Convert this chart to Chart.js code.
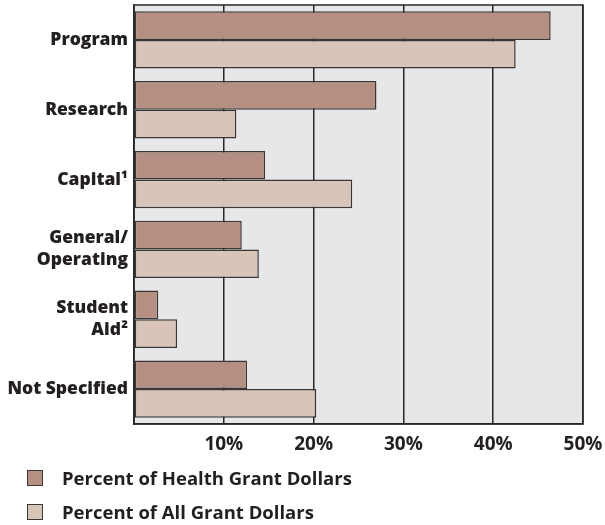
<!DOCTYPE html>
<html>
<head>
<meta charset="utf-8">
<script src="https://cdn.jsdelivr.net/npm/chart.js@4/dist/chart.umd.min.js"></script>
<style>
  html, body { margin: 0; padding: 0; background: #ffffff; }
  #wrap { position: relative; width: 605px; height: 525px; }
  #c { position: absolute; left: 0; top: 0; }
  .leg { position: absolute; left: 27px; font-family: "Open Sans", sans-serif; font-weight: 700; font-size: 18.5px; color: #231f20; display: flex; align-items: center; white-space: nowrap; }
  .leg .sw { width: 14px; height: 14px; border: 1.5px solid #3b3535; margin-right: 19px; }
</style>
</head>
<body>
<div id="wrap">
  <canvas id="c" width="605" height="525"></canvas>
  <div id="legend"></div>
</div>
<script>
const categories = ["Program", "Research", "Capital\u00b9", ["General/", "Operating"], ["Student", "Aid\u00b2"], "Not Specified"];
const seriesNames = ["Percent of Health Grant Dollars", "Percent of All Grant Dollars"];
const healthValues = [46.4, 27.0, 14.6, 12.0, 2.7, 12.6];
const allValues = [42.5, 11.4, 24.3, 13.9, 4.8, 20.3];
const xTickValues = [10, 20, 30, 40, 50];
const seriesColors = ["#b58f82", "#d8c4b8"];

const dark = "#2b2727";
const FONT = "'Open Sans', sans-serif";

const plotBg = {
  id: "plotBg",
  beforeDraw(chart) {
    const a = chart.chartArea, ctx = chart.ctx;
    ctx.save();
    ctx.fillStyle = "#e6e7e9";
    ctx.fillRect(a.left, a.top, a.right - a.left, a.bottom - a.top);
    ctx.restore();
  },
  afterDatasetsDraw(chart) {
    const a = chart.chartArea, ctx = chart.ctx;
    ctx.save();
    ctx.strokeStyle = dark;
    ctx.lineWidth = 1.5;
    ctx.strokeRect(a.left, a.top, a.right - a.left, a.bottom - a.top);
    ctx.restore();
  }
};

const chart = new Chart(document.getElementById("c"), {
  type: "bar",
  data: {
    labels: categories,
    datasets: [
      { label: seriesNames[0], data: healthValues, backgroundColor: seriesColors[0] },
      { label: seriesNames[1], data: allValues, backgroundColor: seriesColors[1] }
    ]
  },
  options: {
    indexAxis: "y",
    responsive: false,
    animation: false,
    layout: { padding: { left: 0, right: 22, top: 5, bottom: 0 } },
    datasets: {
      bar: {
        borderColor: "#3b3535",
        borderWidth: 1.5,
        borderSkipped: false,
        categoryPercentage: 0.82,
        barPercentage: 1.0
      }
    },
    plugins: {
      legend: { display: false },
      tooltip: { enabled: false }
    },
    scales: {
      x: {
        min: 0,
        max: 50,
        afterBuildTicks(scale) {
          scale.ticks = [0].concat(xTickValues).map(v => ({ value: v }));
        },
        afterFit(scale) {
          scale.height = 101;
          scale.paddingLeft = 0;
          scale.paddingRight = 0;
        },
        ticks: {
          padding: 9,
          color: "#231f20",
          font: { family: FONT, weight: "bold", size: 19 },
          callback: (v) => v === 0 ? "" : v + "%"
        },
        grid: { color: dark, lineWidth: 1.5, drawTicks: false },
        border: { display: true, color: dark, width: 1.5 }
      },
      y: {
        afterFit(scale) {
          scale.width = 134;
          scale.paddingTop = 0;
          scale.paddingBottom = 0;
        },
        ticks: {
          padding: 6,
          color: "#231f20",
          font: { family: FONT, weight: 800, size: 17.5, lineHeight: 1.25 }
        },
        grid: { display: false, drawTicks: false },
        border: { display: true, color: dark, width: 1.5 }
      }
    }
  },
  plugins: [plotBg]
});

const legendEl = document.getElementById("legend");
const legendTops = [469, 503];
chart.data.datasets.forEach((ds, i) => {
  const row = document.createElement("div");
  row.className = "leg";
  row.style.top = (legendTops[i] - 4) + "px";
  const sw = document.createElement("span");
  sw.className = "sw";
  sw.style.background = ds.backgroundColor;
  const tx = document.createElement("span");
  tx.textContent = ds.label;
  row.appendChild(sw);
  row.appendChild(tx);
  legendEl.appendChild(row);
});
</script>
</body>
</html>
